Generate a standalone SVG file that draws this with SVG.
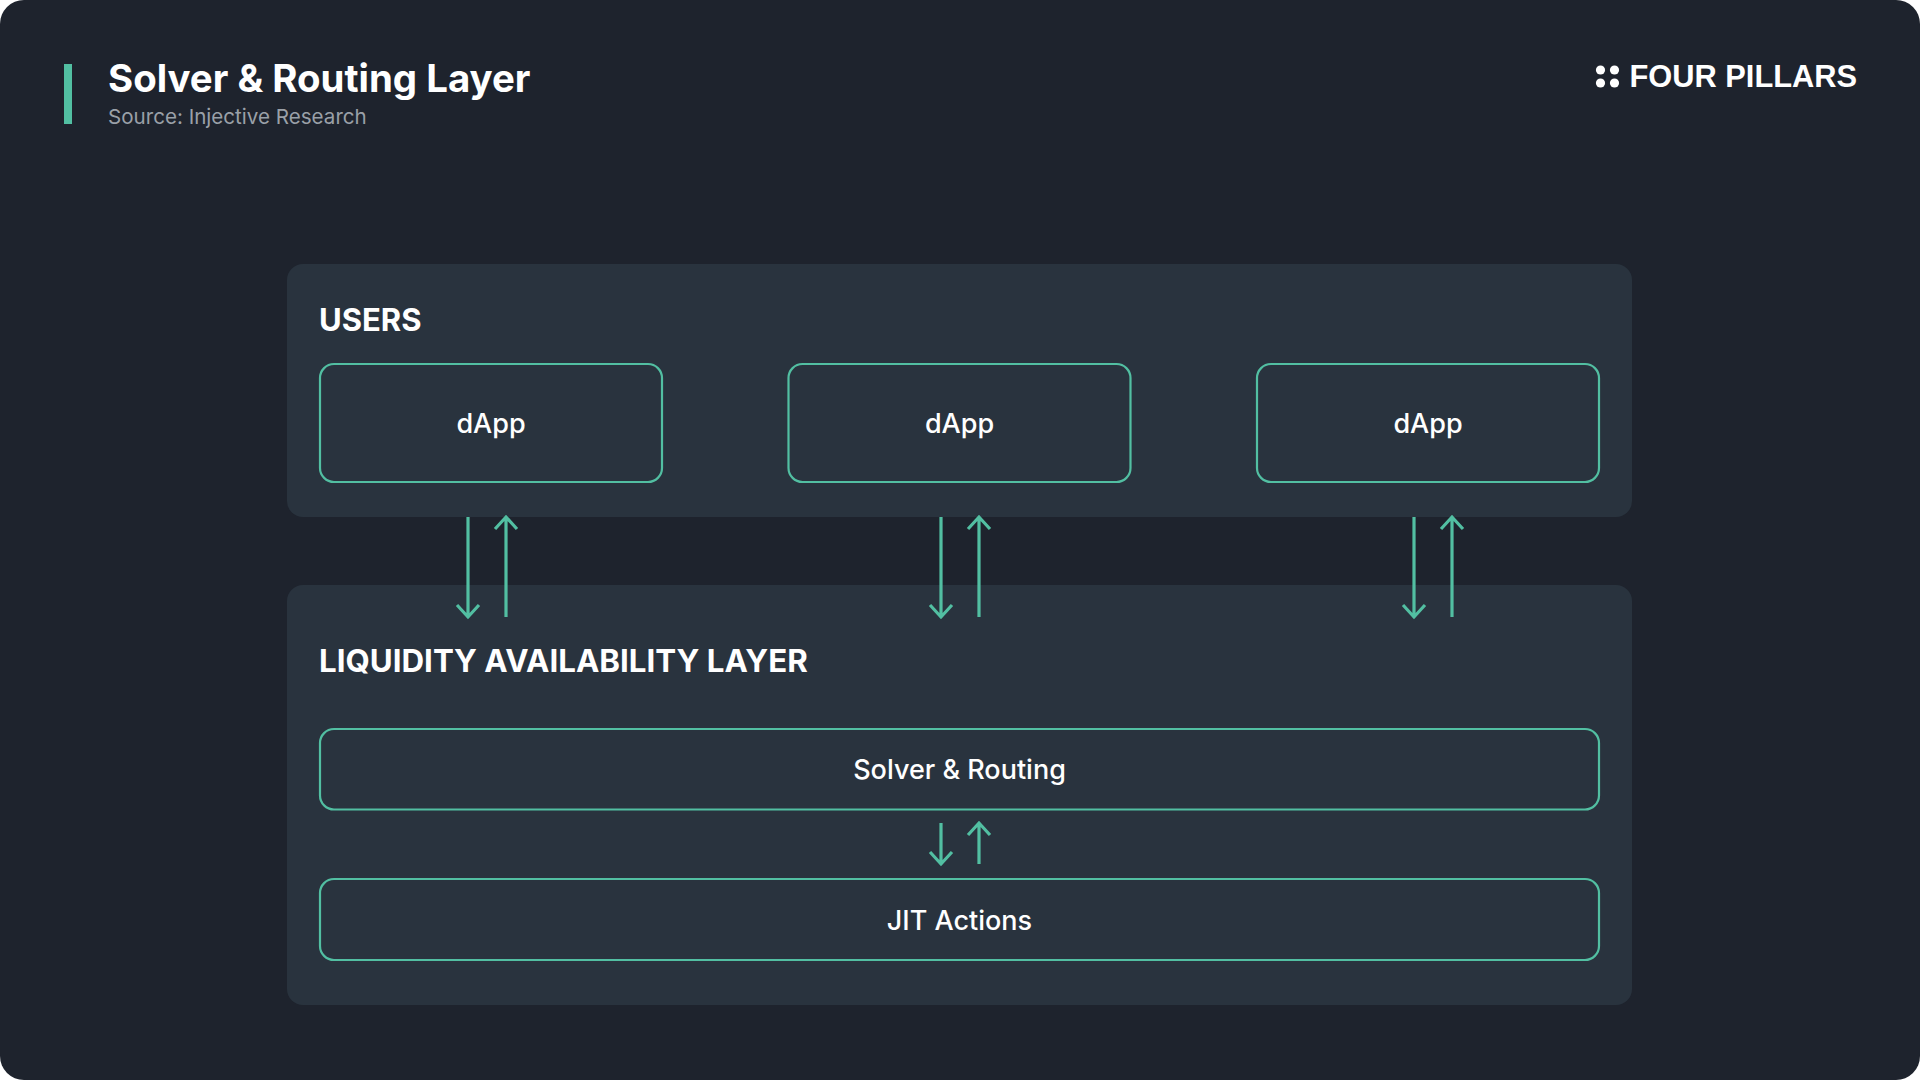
<svg xmlns="http://www.w3.org/2000/svg" width="1920" height="1080" viewBox="0 0 1920 1080">
<style>
text{font-family:Inter,"Liberation Sans",sans-serif;fill:#fff}
.panel{fill:#29333e}
.box{fill:none;stroke:#52bfa2;stroke-width:2.2}
.lab{font-size:27px;font-weight:500;text-anchor:middle}
.head{font-size:31px;font-weight:700}
.arr{fill:none;stroke:#52bfa2;stroke-width:3.2;stroke-linejoin:miter}
</style>
<rect width="1920" height="1080" fill="#fff"/>
<rect width="1920" height="1080" rx="24" fill="#1e232d"/>
<g id="title">
<rect x="64" y="64" width="8" height="60" fill="#52bfa2"/>
<text x="108" y="92" font-size="38.4" font-weight="700">Solver &amp; Routing Layer</text>
<text x="108" y="124" font-size="20.6" style="fill:#9aa0a8">Source: Injective Research</text>
</g>
<g id="logo">
<circle cx="1600.5" cy="70" r="4.6" fill="#fff"/><circle cx="1614.5" cy="70" r="4.6" fill="#fff"/>
<circle cx="1600.5" cy="83" r="4.6" fill="#fff"/><circle cx="1614.5" cy="83" r="4.6" fill="#fff"/>
<text x="1629.5" y="86.5" font-size="30.8" font-weight="700" style="font-family:'Liberation Sans',sans-serif">FOUR PILLARS</text>
</g>
<g id="users">
<rect class="panel" x="287" y="264" width="1345" height="253" rx="16"/>
<text class="head" x="319" y="331">USERS</text>
</g>
<g id="liquidity">
<rect class="panel" x="287" y="585" width="1345" height="420" rx="16"/>
<text class="head" x="319" y="672" style="font-size:31.3px">LIQUIDITY AVAILABILITY LAYER</text>
</g>
<g id="dapp1"><rect class="box" x="320" y="364" width="342" height="118" rx="14"/><text class="lab" x="491" y="433">dApp</text></g>
<g id="dapp2"><rect class="box" x="788.5" y="364" width="342" height="118" rx="14"/><text class="lab" x="959.5" y="433">dApp</text></g>
<g id="dapp3"><rect class="box" x="1257" y="364" width="342" height="118" rx="14"/><text class="lab" x="1428" y="433">dApp</text></g>
<g id="solver"><rect class="box" x="320" y="729" width="1279" height="80.5" rx="14"/><text class="lab" x="959.5" y="779">Solver &amp; Routing</text></g>
<g id="jit"><rect class="box" x="320" y="879" width="1279" height="81" rx="14"/><text class="lab" x="959.5" y="930">JIT Actions</text></g>
<g id="connectors" class="arr">
<path d="M468 517V617M457 605L468 617L479 605"/>
<path d="M506 617V517M495 529L506 517L517 529"/>
<path d="M941 517V617M930 605L941 617L952 605"/>
<path d="M979 617V517M968 529L979 517L990 529"/>
<path d="M1414 517V617M1403 605L1414 617L1425 605"/>
<path d="M1452 617V517M1441 529L1452 517L1463 529"/>
<path d="M941 823V864M930 852L941 864L952 852"/>
<path d="M979 864V823M968 835L979 823L990 835"/>
</g>
</svg>
